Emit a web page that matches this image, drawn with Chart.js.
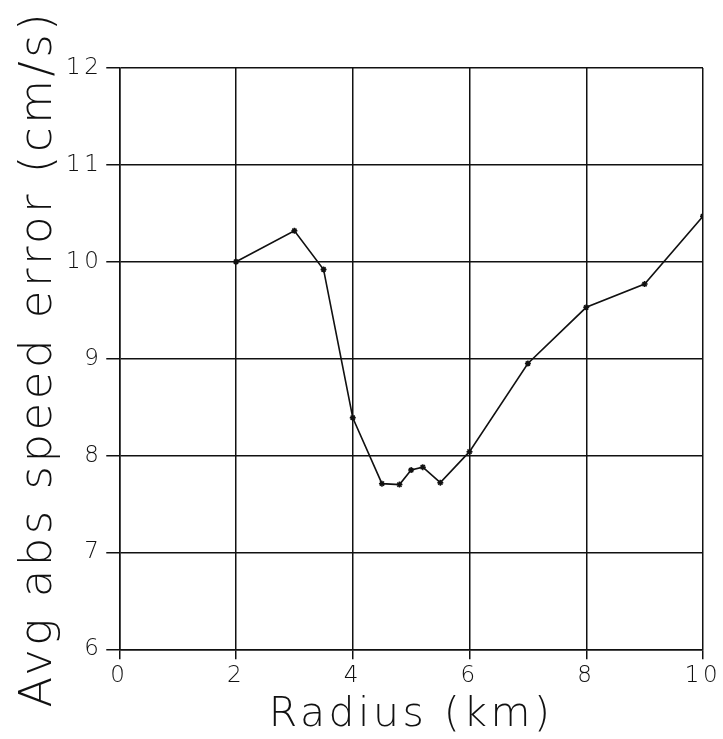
<!DOCTYPE html>
<html lang="en">
<head>
    <meta charset="UTF-8">
    <title>Avg abs speed error vs radius</title>
    <script src="https://cdn.jsdelivr.net/npm/chart.js"></script>
    <style>
        body {
            margin: 0;
            background: #fff;
        }
        #errChart {
            display: block;
        }
    </style>
</head>
<body>
    <canvas id="errChart" width="723" height="739"></canvas>

    <script>
        // radius (km) and avg abs speed error (cm/s)
        const radius = [2, 3, 3.5, 4, 4.5, 4.8, 5, 5.2, 5.5, 6, 7, 8, 9, 10];
        const speedError = [10.0, 10.32, 9.92, 8.39, 7.71, 7.70, 7.85, 7.88, 7.72, 8.04, 8.95, 9.53, 9.77, 10.47];

        const xTicks = [0, 2, 4, 6, 8, 10];
        const yTicks = [6, 7, 8, 9, 10, 11, 12];

        const fontFamily = "'DejaVu Sans', sans-serif";
        const ink = "#111";

        const points = radius.map((r, i) => ({ x: r, y: speedError[i] }));

        // the old plotter lettering is widely spaced; widen text only at draw time
        const spacedText = {
            id: "spacedText",
            beforeDraw(chart) { chart.ctx.letterSpacing = "3.5px"; },
            afterDraw(chart) { chart.ctx.letterSpacing = "0px"; }
        };

        new Chart(document.getElementById("errChart").getContext("2d"), {
            type: "line",
            data: {
                datasets: [{
                    data: points,
                    borderColor: ink,
                    borderWidth: 1.6,
                    backgroundColor: ink,
                    pointStyle: "star",
                    pointRadius: 3,
                    pointBorderColor: ink,
                    pointBorderWidth: 1.5,
                    tension: 0
                }]
            },
            plugins: [spacedText],
            options: {
                responsive: false,
                animation: false,
                layout: { padding: { left: 12, right: 20, top: 68, bottom: 1 } },
                plugins: {
                    legend: { display: false },
                    tooltip: { enabled: false }
                },
                scales: {
                    x: {
                        type: "linear",
                        min: xTicks[0],
                        max: xTicks[xTicks.length - 1],
                        afterBuildTicks: axis => { axis.ticks = xTicks.map(v => ({ value: v })); },
                        grid: { color: ink, lineWidth: 1.5, tickLength: 10, tickColor: ink },
                        border: { color: ink, width: 1.5 },
                        ticks: { color: ink, padding: 3, font: { family: fontFamily, size: 23, weight: 200 } },
                        title: {
                            display: true,
                            text: "Radius (km)",
                            color: ink,
                            padding: { top: 0, bottom: 0 },
                            font: { family: fontFamily, size: 41, weight: 200, lineHeight: 1.1 }
                        }
                    },
                    y: {
                        min: yTicks[0],
                        max: yTicks[yTicks.length - 1],
                        afterBuildTicks: axis => { axis.ticks = yTicks.map(v => ({ value: v })); },
                        grid: { color: ink, lineWidth: 1.5, tickLength: 13, tickColor: ink },
                        border: { color: ink, width: 1.5 },
                        ticks: { color: ink, padding: 4, font: { family: fontFamily, size: 23, weight: 200 } },
                        title: {
                            display: true,
                            text: "Avg abs speed error (cm/s)",
                            color: ink,
                            padding: { top: 0, bottom: 3 },
                            font: { family: fontFamily, size: 45, weight: 200 }
                        }
                    }
                }
            }
        });
    </script>
</body>
</html>
